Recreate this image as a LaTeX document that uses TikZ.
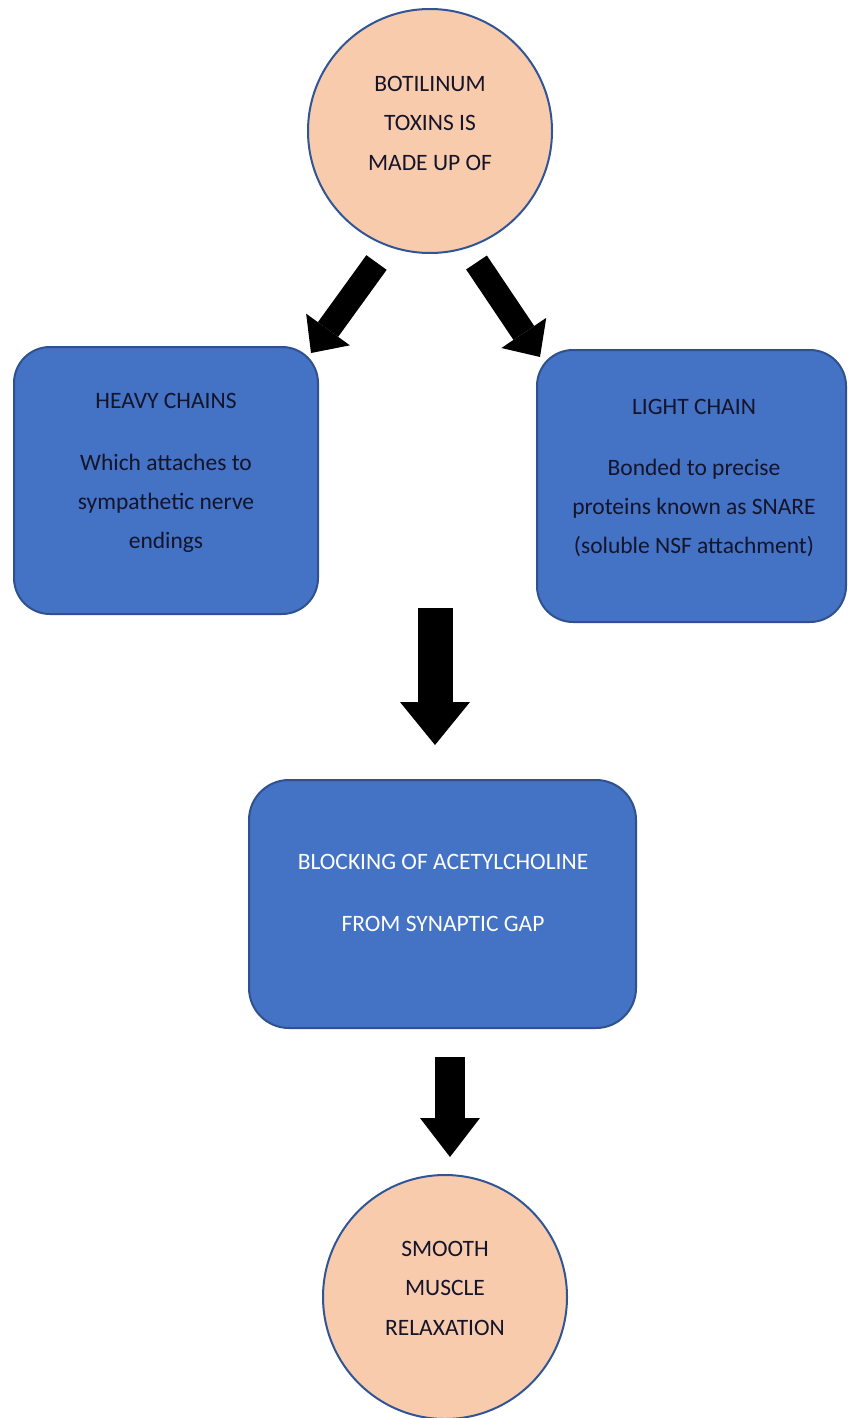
\documentclass[tikz,border=0pt]{standalone}
\usepackage{fontspec}
\setmainfont{Carlito}
\usetikzlibrary{arrows.meta}
\definecolor{peach}{HTML}{F8CBAD}
\definecolor{cborder}{HTML}{2F5597}
\definecolor{boxfill}{HTML}{4472C4}
\definecolor{boxborder}{HTML}{2F528F}
\definecolor{darktext}{HTML}{14142A}
\begin{document}
\begin{tikzpicture}[x=1pt,y=-1pt,
  circ/.style={circle, draw=cborder, line width=2pt, fill=peach, minimum size=244pt, inner sep=0pt},
  bbox/.style={rectangle, rounded corners=36pt, draw=boxborder, line width=2pt, fill=boxfill, inner sep=0pt},
  ctext/.style={align=center, font=\fontsize{23.5}{39.5}\selectfont, text=darktext, inner sep=0pt},
  btext/.style={align=center, font=\fontsize{23.5}{39}\selectfont, text=darktext, inner sep=0pt},
  wtext/.style={align=center, font=\fontsize{23.5}{62}\selectfont, text=white, inner sep=0pt},
  diagarrow/.style={line width=25pt, -{Triangle[width=54pt,length=29pt,line width=0pt]}},
  bigarrow/.style={line width=35pt, -{Triangle[width=70pt,length=43pt,line width=0pt]}},
  smallarrow/.style={line width=30pt, -{Triangle[width=60pt,length=39pt,line width=0pt]}}]
\useasboundingbox (0,0) rectangle (848,1418);
% nodes
\node[circ] (top) at (430,131) {};
\node[ctext] (topt) at (430,123) {BOTILINUM\\TOXINS IS\\MADE UP OF};
\node[bbox, minimum width=304pt, minimum height=267pt] (heavy) at (166,480.5) {};
\node[btext] (heavyt) at (166,473) {HEAVY CHAINS\\[23pt]Which attaches to\\sympathetic nerve\\endings};
\node[bbox, minimum width=309pt, minimum height=272pt] (light) at (691.5,486) {};
\node[btext] (lightt) at (694,478) {LIGHT CHAIN\\[22pt]Bonded to precise\\proteins known as SNARE\\(soluble NSF attachment)};
\node[bbox, rounded corners=40pt, minimum width=387pt, minimum height=248pt] (block) at (442.5,904) {};
\node[wtext] (blockt) at (443,893) {BLOCKING OF ACETYLCHOLINE\\FROM SYNAPTIC GAP};
\node[circ] (smooth) at (445,1297) {};
\node[ctext] (smootht) at (445,1288) {SMOOTH\\MUSCLE\\RELAXATION};
% arrow end points
\coordinate (a1s) at (376.5,262.5);
\coordinate (a1e) at (311,353);
\coordinate (a2s) at (476.5,262.5);
\coordinate (a2e) at (540,357);
\coordinate (a3s) at (435,608);
\coordinate (a3e) at (435,745);
\coordinate (a4s) at (450,1057);
\coordinate (a4e) at (450,1157);
% connectors
\draw[diagarrow] (a1s) -- (a1e);
\draw[diagarrow] (a2s) -- (a2e);
\draw[bigarrow] (a3s) -- (a3e);
\draw[smallarrow] (a4s) -- (a4e);
\end{tikzpicture}
\end{document}
